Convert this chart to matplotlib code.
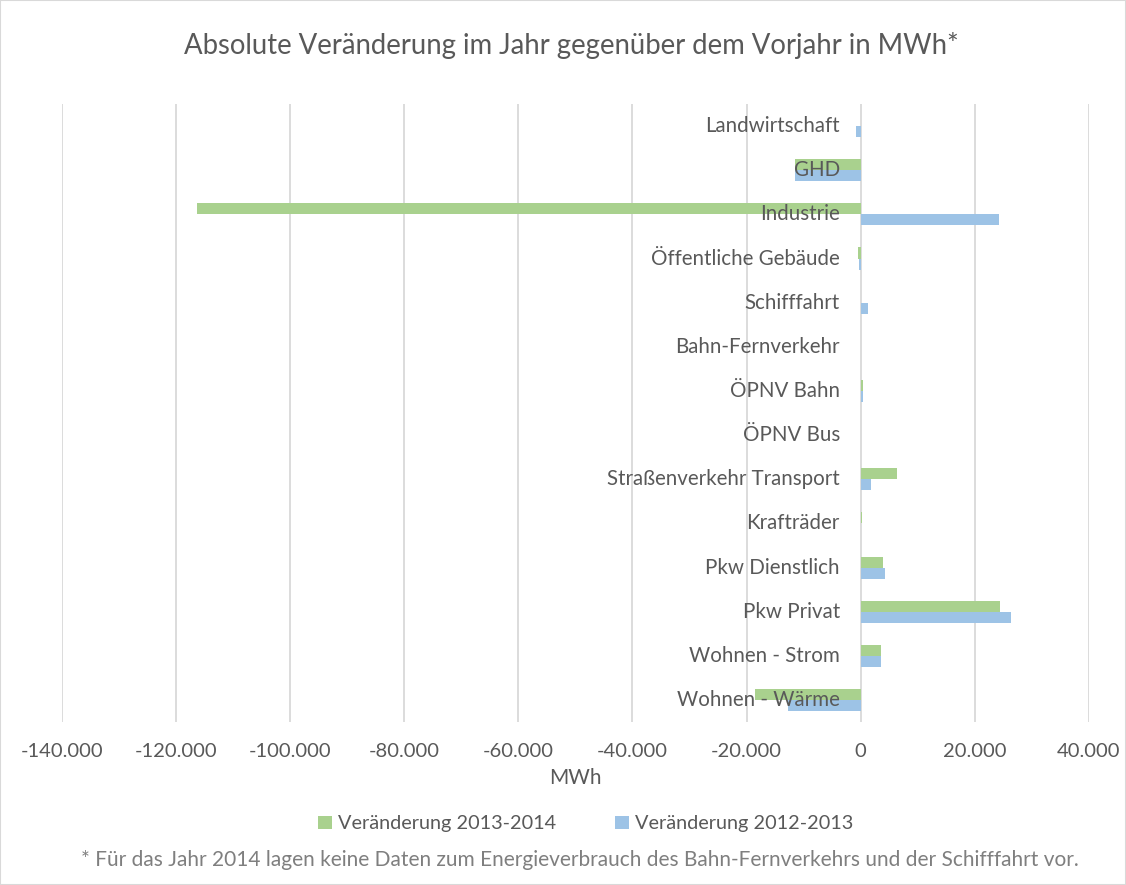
import matplotlib

matplotlib.use("Agg")
import matplotlib.pyplot as plt
from matplotlib.ticker import FuncFormatter, MultipleLocator
from matplotlib.patches import Rectangle

# categories from bottom to top
categories = [
    "Wohnen - Wärme",
    "Wohnen - Strom",
    "Pkw Privat",
    "Pkw Dienstlich",
    "Krafträder",
    "Straßenverkehr Transport",
    "ÖPNV Bus",
    "ÖPNV Bahn",
    "Bahn-Fernverkehr",
    "Schifffahrt",
    "Öffentliche Gebäude",
    "Industrie",
    "GHD",
    "Landwirtschaft",
]
change_2013_2014 = [-18480, 3580, 24370, 3990, 250, 6320, 100, 350, 0, 0, -440, -116250, -11440, 0]
change_2012_2013 = [-12780, 3580, 26340, 4280, 50, 1830, 80, 420, 0, 1370, -260, 24190, -11560, -790]

series_names = ["Veränderung 2013-2014", "Veränderung 2012-2013"]
title = "Absolute Veränderung im Jahr gegenüber dem Vorjahr in MWh*"
footnote = "* Für das Jahr 2014 lagen keine Daten zum Energieverbrauch des Bahn-Fernverkehrs und der Schifffahrt vor."

green = "#a9d18e"
blue = "#9dc3e6"
text_col = "#595959"

plt.rcParams["font.family"] = ["Lato", "DejaVu Sans"]

fig = plt.figure(figsize=(11.26, 8.85), dpi=100)
ax = fig.add_axes([0.055, 0.184, 0.912, 0.6985])

ypos = list(range(len(categories)))
h = 0.25
ax.barh([y + h / 2 for y in ypos], change_2013_2014, height=h, color=green,
        label=series_names[0], zorder=3)
ax.barh([y - h / 2 for y in ypos], change_2012_2013, height=h, color=blue,
        label=series_names[1], zorder=3)

ax.set_xlim(-140000, 40000)
ax.set_ylim(-0.5, len(categories) - 0.5)
ax.xaxis.set_major_locator(MultipleLocator(20000))
ax.xaxis.set_major_formatter(FuncFormatter(lambda v, p: f"{int(v):,}".replace(",", ".")))
ax.set_yticks([])
ax.grid(axis="x", color="#d9d9d9", linewidth=1.3, zorder=0)
for s in ax.spines.values():
    s.set_visible(False)
ax.tick_params(axis="x", length=0, pad=15, labelsize=14.5, labelcolor=text_col)

# category labels next to the zero line
for y, name in zip(ypos, categories):
    ax.annotate(name, xy=(0, y), xytext=(-15, 0), textcoords="offset points",
                ha="right", va="center", fontsize=14.8, color=text_col, zorder=4)

ax.set_xlabel("MWh", fontsize=15, color=text_col, labelpad=6)

fig.text(0.507, 0.949, title, ha="center", va="center", fontsize=19.8, color=text_col)
fig.legend(loc="center", bbox_to_anchor=(0.52, 0.069), ncol=2, frameon=False,
           fontsize=14.3, labelcolor=text_col, handlelength=0.7, handleheight=0.7,
           handletextpad=0.3, columnspacing=3.0)
fig.text(0.515, 0.028, footnote, ha="center", va="center", fontsize=15, color="#7f7f7f")

fig.patches.append(Rectangle((0, 0), 1, 1, transform=fig.transFigure, fill=False,
                             edgecolor="#d9d9d9", linewidth=1.5))

fig.savefig("out.png", dpi=100)
